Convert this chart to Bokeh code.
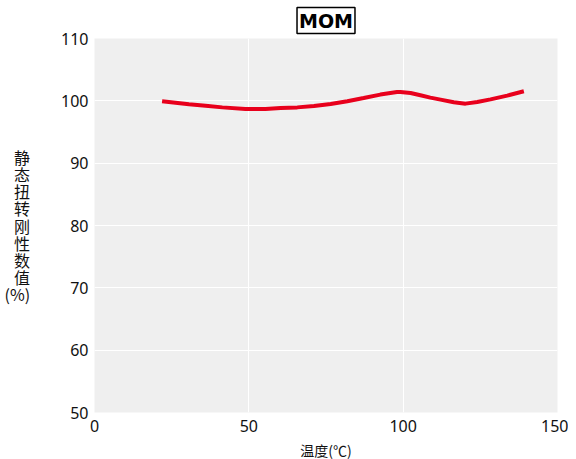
from bokeh.plotting import figure
from bokeh.embed import file_html
from bokeh.resources import INLINE
from bokeh.models import Range1d, FixedTicker

temps = [21.9, 30.6, 36.0, 41.4, 48.9, 55.4, 60.3, 65.7, 71.1, 76.5, 81.9, 87.2, 92.6, 98.0,
         99.1, 102.4, 105.6, 108.8, 112.1, 116.4, 120.2, 124.0, 128.3, 133.7, 139.1]
stiffness = [99.95, 99.44, 99.22, 98.95, 98.68, 98.68, 98.84, 98.95, 99.17, 99.49, 99.92, 100.45, 101.0, 101.42,
             101.42, 101.26, 100.89, 100.52, 100.19, 99.76, 99.55, 99.81, 100.24, 100.84, 101.53]
x_ticks = [0, 50, 100, 150]
y_ticks = [50, 60, 70, 80, 90, 100, 110]

p = figure(frame_width=463, frame_height=374, output_backend="svg", toolbar_location=None,
           x_range=Range1d(0, 150), y_range=Range1d(50, 110),
           min_border_left=94, min_border_right=11, min_border_top=38, min_border_bottom=20)

p.background_fill_color = "#efefef"
p.border_fill_color = "white"
p.outline_line_color = None
p.grid.grid_line_color = "white"
p.grid.grid_line_width = 1
p.xaxis.ticker = FixedTicker(ticks=x_ticks)
p.yaxis.ticker = FixedTicker(ticks=y_ticks)

for ax in (p.xaxis[0], p.yaxis[0]):
    ax.axis_line_color = None
    ax.major_tick_line_color = None
    ax.minor_tick_line_color = None
    ax.major_tick_out = 0
    ax.major_tick_in = 0
    ax.major_label_text_font = "Noto Sans"
    ax.major_label_text_font_size = "16px"
    ax.major_label_text_color = "#111111"
    ax.axis_label_text_font = "Noto Sans CJK SC"
    ax.axis_label_text_font_style = "normal"
    ax.axis_label_text_color = "#111111"

p.xaxis.major_label_standoff = 7
p.yaxis.major_label_standoff = 6
p.xaxis.axis_label = "温度(℃)"
p.xaxis.axis_label_text_font_size = "14px"
p.xaxis.axis_label_standoff = 5
p.yaxis.axis_label = "静\n态\n扭\n转\n刚\n性\n数\n值\n(%)"
p.yaxis.axis_label_text_font_size = "16px"
p.yaxis.axis_label_orientation = "horizontal"
p.yaxis.axis_label_standoff = 28
p.yaxis.axis_label_text_line_height = 0.71

p.title.text = "MOM"
p.title.align = "center"
p.title.text_font = "DejaVu Sans"
p.title.text_font_style = "bold"
p.title.text_font_size = "19px"
p.title.text_color = "black"
p.title.border_line_color = "black"
p.title.border_line_width = 1.5
p.title.padding = 2

p.line(temps, stiffness, line_color="#e8001c", line_width=4)

open("out.html", "w").write(file_html(p, INLINE))
